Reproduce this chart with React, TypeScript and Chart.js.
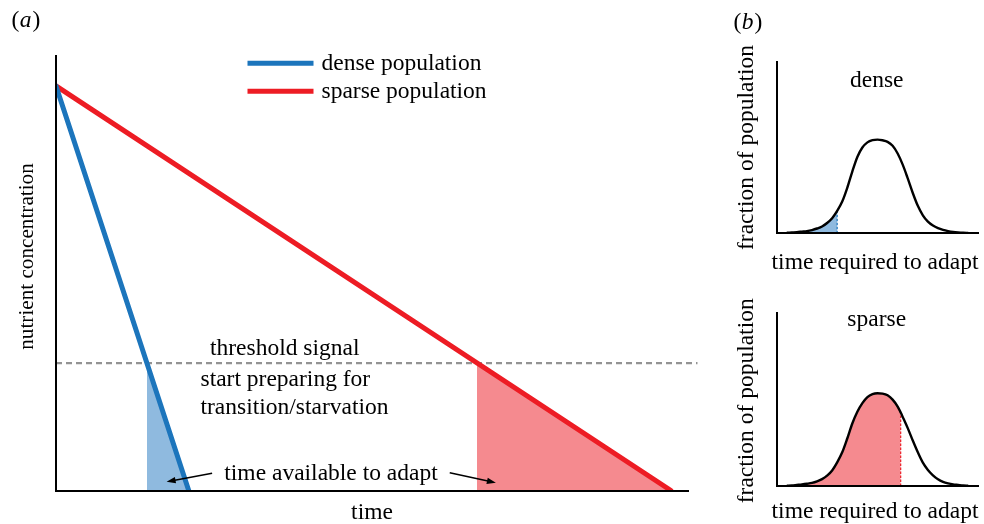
import React, { useEffect, useRef } from 'react';
import { Chart, registerables } from 'chart.js';

Chart.register(...registerables);

// ---------- Panel (a): nutrient concentration over time ----------
const seriesLabels = ['dense population', 'sparse population'];
const startConcentration = 93;
const thresholdLevel = 29.3;
const depletionTimes = [21, 97.3]; // dense, sparse
const thresholdTimes = [14.4, 66.6]; // dense, sparse
const thresholdLineEnd = 101.5;
const thresholdTexts = ['threshold signal', 'start preparing for', 'transition/starvation'];
const adaptText = 'time available to adapt';
const axisTitlesA = ['time', 'nutrient concentration'];

// ---------- Panel (b): distribution of time required to adapt ----------
const denseTimes = [5, 7.5, 10, 12.5, 15, 17.5, 20, 22.5, 25, 27.5, 30, 32.5, 35, 37.5, 40, 42.5, 45, 47.5, 50, 52.5, 55, 57.5, 60, 62.5, 65, 67.5, 70, 72.5, 75, 77.5, 80, 82.5, 85, 87.5, 90, 92.5, 95];
const denseFraction = [0.3, 0.5, 0.7, 1.0, 1.3, 1.9, 2.8, 4.0, 6.0, 8.8, 13.0, 18.5, 26.5, 36, 44.5, 50, 53, 54.3, 54.6, 54.2, 53.3, 51, 46.5, 40, 32, 23.5, 16, 10.5, 6.8, 4.5, 3.0, 2.0, 1.3, 0.8, 0.5, 0.3, 0.2];
const denseCutoff = 30;
const sparseTimes = [5, 7.5, 10, 12.5, 15, 17.5, 20, 22.5, 25, 27.5, 30, 32.5, 35, 37.5, 40, 42.5, 45, 47.5, 50, 52.5, 55, 57.5, 60, 61.5, 62.5, 65, 67.5, 70, 72.5, 75, 77.5, 80, 82.5, 85, 87.5, 90, 92.5, 95];
const sparseFraction = [0.2, 0.3, 0.6, 0.9, 1.3, 1.8, 2.7, 4.0, 6.0, 9.0, 13.7, 19.5, 27.5, 36.2, 43, 48, 51.5, 53.2, 53.7, 53.5, 52.5, 50, 46, 42.5, 40, 33.5, 26.3, 19.5, 13.5, 9.3, 6.2, 3.9, 2.4, 1.5, 0.9, 0.6, 0.3, 0.2];
const sparseCutoff = 61.5;
const panelTitlesB = ['dense', 'sparse'];
const axisTitlesB = ['time required to adapt', 'fraction of population'];

const BLUE = '#1c75bc';
const RED = '#ed1c24';
const BLUE_FILL = '#8fbadf';
const RED_FILL = '#f58a8f';
const GRAY = '#939393';
const FONT = '"Liberation Serif", "Times New Roman", serif';

function txt(ctx: CanvasRenderingContext2D, s: string, x: number, y: number, o: any = {}) {
  const size = o.size ?? 23.5;
  ctx.save();
  ctx.font = `${o.italic ? 'italic ' : ''}${size}px ${FONT}`;
  ctx.fillStyle = '#000';
  ctx.textAlign = o.align ?? 'left';
  ctx.textBaseline = 'alphabetic';
  if (o.rotate) {
    ctx.translate(x, y);
    ctx.rotate(-Math.PI / 2);
    ctx.fillText(s, 0, 0);
  } else {
    ctx.fillText(s, x, y);
  }
  ctx.restore();
}

function panelLetter(ctx: CanvasRenderingContext2D, letter: string, x: number, y: number) {
  ctx.save();
  ctx.font = `23.5px ${FONT}`;
  const w1 = ctx.measureText('(').width;
  ctx.font = `italic 23.5px ${FONT}`;
  const w2 = ctx.measureText(letter).width;
  ctx.restore();
  txt(ctx, '(', x, y);
  txt(ctx, letter, x + w1 + 0.5, y, { italic: true });
  txt(ctx, ')', x + w1 + w2 + 1.5, y);
}

function arrow(ctx: CanvasRenderingContext2D, x1: number, y1: number, x2: number, y2: number) {
  const ang = Math.atan2(y2 - y1, x2 - x1);
  const L = 9, W = 3.2;
  ctx.save();
  ctx.strokeStyle = '#000';
  ctx.fillStyle = '#000';
  ctx.lineWidth = 1.5;
  ctx.beginPath();
  ctx.moveTo(x1, y1);
  ctx.lineTo(x2 - Math.cos(ang) * (L - 2), y2 - Math.sin(ang) * (L - 2));
  ctx.stroke();
  ctx.beginPath();
  ctx.moveTo(x2, y2);
  ctx.lineTo(x2 - Math.cos(ang) * L - Math.sin(ang) * W, y2 - Math.sin(ang) * L + Math.cos(ang) * W);
  ctx.lineTo(x2 - Math.cos(ang) * L + Math.sin(ang) * W, y2 - Math.sin(ang) * L - Math.cos(ang) * W);
  ctx.closePath();
  ctx.fill();
  ctx.restore();
}

const axis = (min: number, max: number) => ({
  type: 'linear',
  min,
  max,
  grid: { display: false, drawTicks: false },
  ticks: { display: false },
  border: { display: true, color: '#000', width: 2, z: 1 },
  title: { display: false },
});

const baseOptions = (padding: any) => ({
  responsive: false,
  animation: false,
  devicePixelRatio: 1,
  layout: { padding },
  plugins: { legend: { display: false }, tooltip: { enabled: false } },
  elements: { point: { radius: 0 }, line: { tension: 0 } },
  scales: { x: axis(0, 100), y: axis(0, 100) },
});

function mainConfig(): any {
  const lineColors = [BLUE, RED];
  const fillColors = [BLUE_FILL, RED_FILL];
  const lines = seriesLabels.map((label, i) => ({
    label,
    data: [{ x: 0, y: startConcentration }, { x: depletionTimes[i], y: 0 }],
    borderColor: lineColors[i],
    borderWidth: 5,
    borderCapStyle: 'round',
    fill: false,
  }));
  const windows = seriesLabels.map((label, i) => ({
    label: label + ' window',
    data: [
      { x: thresholdTimes[i], y: 0 },
      { x: thresholdTimes[i], y: thresholdLevel },
      { x: depletionTimes[i], y: 0 },
    ],
    borderWidth: 0,
    backgroundColor: fillColors[i],
    fill: 'origin',
  }));
  const threshold = {
    label: 'threshold',
    data: [{ x: 0, y: thresholdLevel }, { x: thresholdLineEnd, y: thresholdLevel }],
    borderColor: GRAY,
    borderWidth: 2.2,
    borderDash: [6, 4],
    fill: false,
    clip: false,
  };
  const plugin = {
    id: 'annotA',
    afterDraw(chart: any) {
      const ctx = chart.ctx as CanvasRenderingContext2D;
      const xs = chart.scales.x, ys = chart.scales.y;
      const area = chart.chartArea;
      panelLetter(ctx, 'a', 11.5, 27);
      // legend
      lines.forEach((ds, i) => {
        const y = 63.3 + 28 * i;
        ctx.save();
        ctx.strokeStyle = ds.borderColor;
        ctx.lineWidth = 5;
        ctx.beginPath();
        ctx.moveTo(247.5, y);
        ctx.lineTo(313.5, y);
        ctx.stroke();
        ctx.restore();
        txt(ctx, ds.label, 321.5, y + 6.8);
      });
      txt(ctx, thresholdTexts[0], 284.7, 355, { align: 'center' });
      txt(ctx, thresholdTexts[1], 200.5, 386);
      txt(ctx, thresholdTexts[2], 200.5, 414);
      txt(ctx, adaptText, 331, 480, { align: 'center' });
      arrow(ctx, xs.getPixelForValue(24.7), ys.getPixelForValue(3.95), xs.getPixelForValue(17.5), ys.getPixelForValue(2.0));
      arrow(ctx, xs.getPixelForValue(62.3), ys.getPixelForValue(4.1), xs.getPixelForValue(69.6), ys.getPixelForValue(1.8));
      txt(ctx, axisTitlesA[0], (area.left + area.right) / 2, 519, { align: 'center' });
      txt(ctx, axisTitlesA[1], 33.3, 256.5, { align: 'center', rotate: true, size: 21.2 });
    },
  };
  return {
    type: 'line',
    data: { datasets: [...lines, threshold, ...windows] },
    options: baseOptions({ left: 56, top: 55.5, right: 984 - 688, bottom: 524 - 490.5 }),
    plugins: [plugin],
  };
}

function distConfig(
  times: number[],
  fraction: number[],
  cutoff: number,
  lineColor: string,
  fillColor: string,
  title: string,
  padding: any,
  labels: { letter: boolean; titleY: number; xLabelY: number; yLabelCenter: number }
): any {
  const pts = times.map((x, i) => ({ x, y: fraction[i] }));
  const cutIdx = times.indexOf(cutoff);
  const curve = {
    label: title,
    data: pts,
    borderColor: '#000',
    borderWidth: 2.4,
    cubicInterpolationMode: 'monotone',
    fill: false,
  };
  const cutLine = {
    label: title + ' cutoff',
    data: [{ x: cutoff, y: 0 }, { x: cutoff, y: fraction[cutIdx] }],
    borderColor: lineColor,
    borderWidth: 1.2,
    borderDash: [2.5, 1.5],
    fill: false,
  };
  const area = {
    label: title + ' adapted',
    data: pts.slice(0, cutIdx + 1),
    borderWidth: 0,
    backgroundColor: fillColor,
    cubicInterpolationMode: 'monotone',
    fill: 'origin',
  };
  const plugin = {
    id: 'annotB',
    afterDraw(chart: any) {
      const ctx = chart.ctx as CanvasRenderingContext2D;
      const a = chart.chartArea;
      if (labels.letter) panelLetter(ctx, 'b', 733.5, 29);
      txt(ctx, title, 876.7, labels.titleY, { align: 'center' });
      txt(ctx, axisTitlesB[0], (a.left + a.right) / 2 - 2.5, labels.xLabelY, { align: 'center' });
      txt(ctx, axisTitlesB[1], 753.3, labels.yLabelCenter, { align: 'center', rotate: true });
    },
  };
  return {
    type: 'line',
    data: { datasets: [curve, cutLine, area] },
    options: baseOptions(padding),
    plugins: [plugin],
  };
}

const denseConfig = () =>
  distConfig(denseTimes, denseFraction, denseCutoff, BLUE, BLUE_FILL, panelTitlesB[0],
    { left: 776.7, top: 61.7, right: 984 - 978.3, bottom: 524 - 233.3 },
    { letter: true, titleY: 87, xLabelY: 268.5, yLabelCenter: 147.5 });

const sparseConfig = () =>
  distConfig(sparseTimes, sparseFraction, sparseCutoff, RED, RED_FILL, panelTitlesB[1],
    { left: 776.7, top: 313.3, right: 984 - 978.3, bottom: 524 - 486 },
    { letter: false, titleY: 326, xLabelY: 518, yLabelCenter: 400.8 });

function ChartCanvas({ build }: { build: () => any }) {
  const ref = useRef<HTMLCanvasElement>(null);
  useEffect(() => {
    const chart = new Chart(ref.current as HTMLCanvasElement, build());
    return () => chart.destroy();
  }, [build]);
  return (
    <canvas
      ref={ref}
      width={984}
      height={524}
      style={{ position: 'absolute', left: 0, top: 0, width: 984, height: 524 }}
    />
  );
}

export default function App() {
  return (
    <div style={{ position: 'absolute', left: 0, top: 0, width: 984, height: 524, background: '#fff', overflow: 'hidden' }}>
      <ChartCanvas build={mainConfig} />
      <ChartCanvas build={denseConfig} />
      <ChartCanvas build={sparseConfig} />
    </div>
  );
}
